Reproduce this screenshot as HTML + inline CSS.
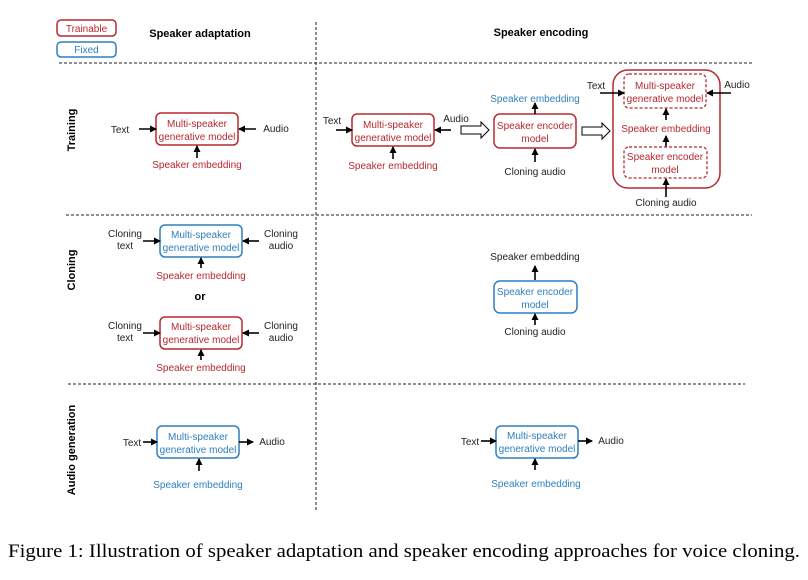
<!DOCTYPE html>
<html><head><meta charset="utf-8"><style>
html,body{margin:0;padding:0;background:#fff;}
svg{display:block;}
text{font-family:"Liberation Sans",sans-serif;}
.k{fill:#222;font-size:10px;}
.r{fill:#b8282e;font-size:10px;}
.b{fill:#2e7fc0;font-size:10px;}
.rb{fill:#fff;stroke:#b8282e;stroke-width:1.5;}
.bb{fill:#fff;stroke:#2e7fc0;stroke-width:1.5;}
.dash{stroke:#222;stroke-width:1;stroke-dasharray:3,2;fill:none;}
.ar{stroke:#000;stroke-width:1.6;fill:none;}
.hd{font-weight:bold;font-size:11px;fill:#000;}
</style></head><body>
<svg width="808" height="580" viewBox="0 0 808 580" xmlns="http://www.w3.org/2000/svg">
<defs>
<marker id="m" markerUnits="userSpaceOnUse" markerWidth="8" markerHeight="8" refX="6" refY="4" orient="auto">
<path d="M0,0.5 L7,4 L0,7.5 Z" fill="#000"/></marker>
</defs>
<rect x="57" y="20" width="59" height="16" rx="4" class="rb" stroke-width="1.2"/>
<text x="86.5" y="32" text-anchor="middle" class="r">Trainable</text>
<rect x="57" y="42" width="59" height="15" rx="4" class="bb" stroke-width="1.2"/>
<text x="86.5" y="53" text-anchor="middle" class="b">Fixed</text>
<text x="200" y="37" text-anchor="middle" class="hd">Speaker adaptation</text>
<text x="541" y="36" text-anchor="middle" class="hd">Speaker encoding</text>
<line x1="316" y1="22" x2="316" y2="510" class="dash"/>
<line x1="59" y1="63" x2="752" y2="63" class="dash"/>
<line x1="66" y1="215" x2="752" y2="215" class="dash"/>
<line x1="68" y1="384" x2="745" y2="384" class="dash"/>
<text transform="translate(75,130) rotate(-90)" text-anchor="middle" class="hd">Training</text>
<text transform="translate(75,270) rotate(-90)" text-anchor="middle" class="hd">Cloning</text>
<text transform="translate(75,450) rotate(-90)" text-anchor="middle" class="hd">Audio generation</text>

<rect x="156" y="113" width="82" height="32" rx="5" class="rb"/>
<text x="197" y="127" text-anchor="middle" class="r">Multi-speaker</text>
<text x="197" y="140" text-anchor="middle" class="r">generative model</text>
<text x="120" y="133" text-anchor="middle" class="k">Text</text>
<line x1="139" y1="129" x2="156" y2="129" class="ar" marker-end="url(#m)"/>
<text x="276" y="132" text-anchor="middle" class="k">Audio</text>
<line x1="256" y1="129" x2="239" y2="129" class="ar" marker-end="url(#m)"/>
<line x1="197" y1="158" x2="197" y2="146" class="ar" marker-end="url(#m)"/>
<text x="197" y="168" text-anchor="middle" class="r">Speaker embedding</text>

<rect x="352" y="114" width="82" height="32" rx="5" class="rb"/>
<text x="393" y="128" text-anchor="middle" class="r">Multi-speaker</text>
<text x="393" y="141" text-anchor="middle" class="r">generative model</text>
<text x="332" y="124" text-anchor="middle" class="k">Text</text>
<line x1="336" y1="130" x2="352" y2="130" class="ar" marker-end="url(#m)"/>
<text x="456" y="122" text-anchor="middle" class="k">Audio</text>
<line x1="451" y1="130" x2="435" y2="130" class="ar" marker-end="url(#m)"/>
<line x1="393" y1="159" x2="393" y2="147" class="ar" marker-end="url(#m)"/>
<text x="393" y="169" text-anchor="middle" class="r">Speaker embedding</text>
<path d="M461,126 L481,126 L481,122 L489,130 L481,138 L481,134 L461,134 Z" fill="#fff" stroke="#000" stroke-width="1"/>
<rect x="494" y="114" width="82" height="34" rx="6" class="rb"/>
<text x="535" y="129" text-anchor="middle" class="r">Speaker encoder</text>
<text x="535" y="142" text-anchor="middle" class="r">model</text>
<line x1="535" y1="114" x2="535" y2="103" class="ar" marker-end="url(#m)"/>
<text x="535" y="102" text-anchor="middle" class="b">Speaker embedding</text>
<line x1="535" y1="162" x2="535" y2="149" class="ar" marker-end="url(#m)"/>
<text x="535" y="175" text-anchor="middle" class="k">Cloning audio</text>
<path d="M582,127 L602,127 L602,123 L610,131 L602,139 L602,135 L582,135 Z" fill="#fff" stroke="#000" stroke-width="1"/>
<rect x="613" y="70" width="107" height="118" rx="15" class="rb"/>
<rect x="624" y="74" width="82" height="34" rx="5" fill="none" stroke="#b8282e" stroke-width="1.3" stroke-dasharray="3,2"/>
<text x="665" y="89" text-anchor="middle" class="r">Multi-speaker</text>
<text x="665" y="102" text-anchor="middle" class="r">generative model</text>
<text x="596" y="89" text-anchor="middle" class="k">Text</text>
<line x1="600" y1="93" x2="624" y2="93" class="ar" marker-end="url(#m)"/>
<text x="737" y="88" text-anchor="middle" class="k">Audio</text>
<line x1="731" y1="93" x2="707" y2="93" class="ar" marker-end="url(#m)"/>
<line x1="666" y1="120" x2="666" y2="109" class="ar" marker-end="url(#m)"/>
<text x="666" y="132" text-anchor="middle" class="r">Speaker embedding</text>
<line x1="666" y1="147" x2="666" y2="136" class="ar" marker-end="url(#m)"/>
<rect x="624" y="147" width="83" height="31" rx="5" fill="none" stroke="#b8282e" stroke-width="1.3" stroke-dasharray="3,2"/>
<text x="665" y="160" text-anchor="middle" class="r">Speaker encoder</text>
<text x="665" y="173" text-anchor="middle" class="r">model</text>
<line x1="666" y1="197" x2="666" y2="179" class="ar" marker-end="url(#m)"/>
<text x="666" y="206" text-anchor="middle" class="k">Cloning audio</text>

<rect x="160" y="225" width="82" height="32" rx="5" class="bb"/>
<text x="201" y="238" text-anchor="middle" class="b">Multi-speaker</text>
<text x="201" y="251" text-anchor="middle" class="b">generative model</text>
<text x="125" y="237" text-anchor="middle" class="k">Cloning</text>
<text x="125" y="249" text-anchor="middle" class="k">text</text>
<line x1="143" y1="241" x2="160" y2="241" class="ar" marker-end="url(#m)"/>
<text x="281" y="237" text-anchor="middle" class="k">Cloning</text>
<text x="281" y="249" text-anchor="middle" class="k">audio</text>
<line x1="259" y1="241" x2="243" y2="241" class="ar" marker-end="url(#m)"/>
<line x1="201" y1="268" x2="201" y2="258" class="ar" marker-end="url(#m)"/>
<text x="201" y="279" text-anchor="middle" class="r">Speaker embedding</text>
<text x="200" y="300" text-anchor="middle" class="hd">or</text>
<rect x="160" y="317" width="82" height="32" rx="5" class="rb"/>
<text x="201" y="330" text-anchor="middle" class="r">Multi-speaker</text>
<text x="201" y="343" text-anchor="middle" class="r">generative model</text>
<text x="125" y="329" text-anchor="middle" class="k">Cloning</text>
<text x="125" y="341" text-anchor="middle" class="k">text</text>
<line x1="143" y1="333" x2="160" y2="333" class="ar" marker-end="url(#m)"/>
<text x="281" y="329" text-anchor="middle" class="k">Cloning</text>
<text x="281" y="341" text-anchor="middle" class="k">audio</text>
<line x1="259" y1="333" x2="243" y2="333" class="ar" marker-end="url(#m)"/>
<line x1="201" y1="360" x2="201" y2="350" class="ar" marker-end="url(#m)"/>
<text x="201" y="371" text-anchor="middle" class="r">Speaker embedding</text>

<text x="535" y="260" text-anchor="middle" class="k">Speaker embedding</text>
<line x1="535" y1="280" x2="535" y2="266" class="ar" marker-end="url(#m)"/>
<rect x="494" y="281" width="83" height="32" rx="6" class="bb"/>
<text x="535" y="295" text-anchor="middle" class="b">Speaker encoder</text>
<text x="535" y="308" text-anchor="middle" class="b">model</text>
<line x1="535" y1="325" x2="535" y2="314" class="ar" marker-end="url(#m)"/>
<text x="535" y="335" text-anchor="middle" class="k">Cloning audio</text>

<rect x="157" y="426" width="82" height="32" rx="5" class="bb"/>
<text x="198" y="440" text-anchor="middle" class="b">Multi-speaker</text>
<text x="198" y="453" text-anchor="middle" class="b">generative model</text>
<text x="132" y="446" text-anchor="middle" class="k">Text</text>
<line x1="143" y1="442" x2="157" y2="442" class="ar" marker-end="url(#m)"/>
<line x1="239" y1="442" x2="253" y2="442" class="ar" marker-end="url(#m)"/>
<text x="272" y="445" text-anchor="middle" class="k">Audio</text>
<line x1="199" y1="471" x2="199" y2="459" class="ar" marker-end="url(#m)"/>
<text x="198" y="488" text-anchor="middle" class="b">Speaker embedding</text>

<rect x="496" y="426" width="82" height="32" rx="5" class="bb"/>
<text x="537" y="439" text-anchor="middle" class="b">Multi-speaker</text>
<text x="537" y="452" text-anchor="middle" class="b">generative model</text>
<text x="470" y="445" text-anchor="middle" class="k">Text</text>
<line x1="481" y1="441" x2="496" y2="441" class="ar" marker-end="url(#m)"/>
<line x1="578" y1="441" x2="592" y2="441" class="ar" marker-end="url(#m)"/>
<text x="611" y="444" text-anchor="middle" class="k">Audio</text>
<line x1="535" y1="470" x2="535" y2="459" class="ar" marker-end="url(#m)"/>
<text x="536" y="487" text-anchor="middle" class="b">Speaker embedding</text>

<text x="8" y="557" textLength="792" lengthAdjust="spacingAndGlyphs" style="font-family:'Liberation Serif',serif;font-size:19px;fill:#000;">Figure 1: Illustration of speaker adaptation and speaker encoding approaches for voice cloning.</text>
</svg>
</body></html>
